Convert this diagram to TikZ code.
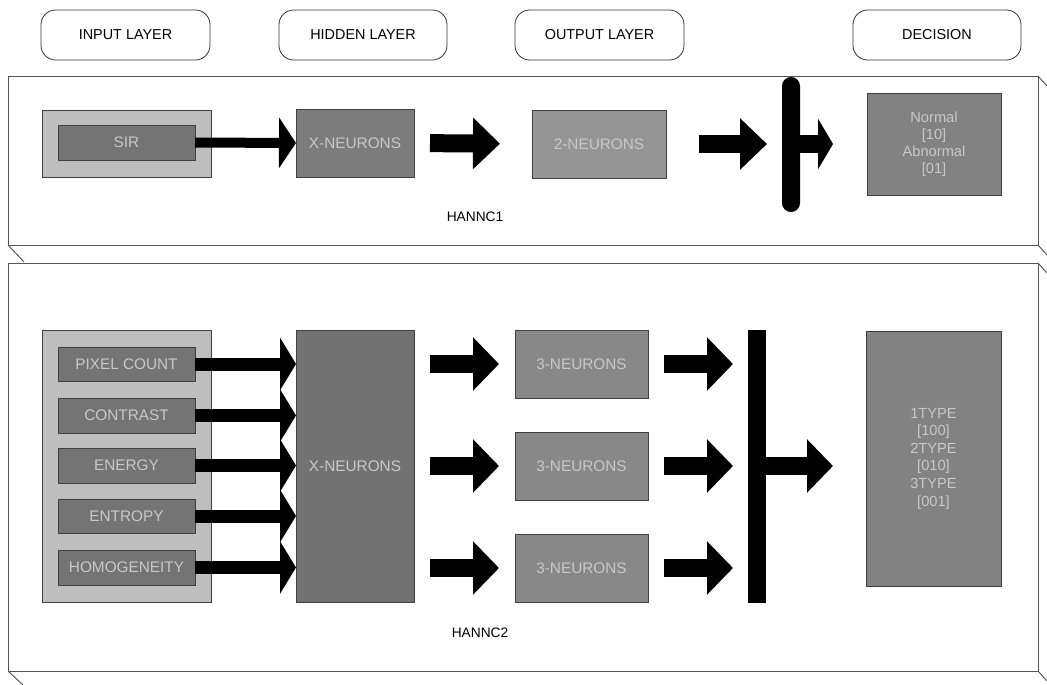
\documentclass[tikz,border=0pt]{standalone}
\usepackage{fontspec}
\setmainfont{Liberation Sans}
\usetikzlibrary{arrows.meta}
\definecolor{lightbox}{HTML}{BEBEBE}
\definecolor{featbox}{HTML}{747474}
\definecolor{hidbox}{HTML}{7C7C7C}
\definecolor{outbox}{HTML}{959595}
\definecolor{outboxb}{HTML}{888888}
\definecolor{decbox}{HTML}{828282}
\definecolor{boxtext}{HTML}{C8C8C8}
\definecolor{framecol}{HTML}{555555}
\newcommand\mybox[7]{\node[#1, minimum width=(#5-#3)*0.75pt, minimum height=(#6-#4)*0.75pt] (#2) at ({(#3+#5)/2},{(#4+#6)/2}) {#7};}
\tikzset{
  hdr/.style={draw=black!80, line width=0.6pt, rounded corners=11pt, inner sep=0pt, outer sep=0pt, font=\fontsize{10.8}{12}\selectfont},
  gbox/.style={draw=black!75, line width=0.5pt, inner sep=0pt, outer sep=0pt, text=boxtext, align=center, font=\fontsize{11.5}{13}\selectfont},
  frame/.style={draw=framecol, line width=0.7pt},
  arrA/.style={line width=7.5pt, -{Triangle[length=12.75pt, width=37.5pt]}},
  arrB/.style={line width=13.5pt, -{Triangle[length=20.25pt, width=37.5pt]}},
  arrC/.style={line width=13.5pt, -{Triangle[length=11.25pt, width=37.5pt]}},
  arrD/.style={line width=9.75pt, -{Triangle[length=12pt, width=39pt]}},
  arrE/.style={line width=13.5pt, -{Triangle[length=19.5pt, width=39pt]}},
  lbl/.style={font=\fontsize{10.3}{12}\selectfont, inner sep=0pt}
}
\begin{document}
\begin{tikzpicture}[x=0.75pt, y=-0.75pt]
\useasboundingbox (0,0) rectangle (1047,685);
% headers
\mybox{hdr}{hin}{41}{10}{210}{60}{INPUT LAYER}
\mybox{hdr}{hhid}{279}{10}{447}{60}{HIDDEN LAYER}
\mybox{hdr}{hout}{515}{10}{684}{60}{OUTPUT LAYER}
\mybox{hdr}{hdec}{853}{10}{1021}{60}{DECISION}
% panel frames
\draw[frame] (8,76) rectangle (1038,245);
\draw[frame] (1038,76) -- (1047,86);
\draw[frame] (1038,245) -- (1047,255);
\draw[frame] (8,245) -- (24,262);
\draw[frame] (8,263) rectangle (1038,671);
\draw[frame] (1038,263) -- (1047,273);
\draw[frame] (1038,671) -- (1047,681);
\draw[frame] (8,671) -- (23,685);
% panel 1
\mybox{gbox, fill=lightbox}{in1}{42}{110}{211}{177}{}
\mybox{gbox, fill=featbox}{sir}{58}{125}{195}{160}{SIR}
\mybox{gbox, fill=hidbox}{xn1}{296}{109}{414}{177}{X-NEURONS}
\mybox{gbox, fill=outbox}{n2}{532}{110}{666}{178}{2-NEURONS}
\mybox{fill=black, rounded corners=6.7pt, inner sep=0pt, outer sep=0pt}{bar1}{782}{77}{800}{212}{}
\mybox{gbox, fill=decbox, font=\fontsize{11}{12.8}\selectfont}{dec1}{867}{93}{1001}{195}{Normal\\{}[10]\\Abnormal\\{}[01]}
\node[lbl] (hannc1) at (475,217) {HANNC1};
\draw[arrA] (sir.east) -- (xn1.west);
\draw[arrB, shorten <=12pt, shorten >=24pt] (xn1.east) -- (n2.west);
\draw[arrB, shorten <=24.75pt, shorten >=11.25pt] (n2.east) -- (bar1.west |- n2.east);
\draw[arrC, shorten >=25.5pt] (bar1.east |- n2.east) -- (dec1.west |- n2.east);
% panel 2
\mybox{gbox, fill=lightbox}{in2}{42}{330}{211}{602}{}
\mybox{gbox, fill=featbox}{f1}{58}{347}{195}{381}{PIXEL COUNT}
\mybox{gbox, fill=featbox}{f2}{58}{398}{195}{433}{CONTRAST}
\mybox{gbox, fill=featbox}{f3}{58}{448}{195}{483}{ENERGY}
\mybox{gbox, fill=featbox}{f4}{58}{499}{195}{533}{ENTROPY}
\mybox{gbox, fill=featbox}{f5}{58}{550}{195}{585}{HOMOGENEITY}
\mybox{gbox, fill=hidbox!92!black}{xn2}{296}{330}{414}{602}{X-NEURONS}
\mybox{gbox, fill=outboxb}{t1}{515}{330}{648}{398}{3-NEURONS}
\mybox{gbox, fill=outboxb}{t2}{515}{432}{648}{500}{3-NEURONS}
\mybox{gbox, fill=outboxb}{t3}{515}{534}{648}{602}{3-NEURONS}
\mybox{fill=black, inner sep=0pt, outer sep=0pt}{bar2}{748}{330}{766}{603}{}
\mybox{gbox, fill=decbox, font=\fontsize{11}{13.2}\selectfont}{dec2}{866}{331}{1001}{586}{1TYPE\\{}[100]\\2TYPE\\{}[010]\\3TYPE\\{}[001]}
\node[lbl] (hannc2) at (480,633) {HANNC2};
\foreach \f in {f1,f2,f3,f4,f5}{
  \draw[arrD] (\f.east) -- (xn2.west |- \f.east);
}
\foreach \t in {t1,t2,t3}{
  \draw[arrE, shorten <=12pt, shorten >=12pt] (xn2.east |- \t.west) -- (\t.west);
  \draw[arrE, shorten <=12pt, shorten >=11.25pt] (\t.east) -- (bar2.west |- \t.east);
}
\draw[arrE, shorten >=24.75pt] (bar2.east |- t2.east) -- (dec2.west |- t2.east);
\end{tikzpicture}
\end{document}
